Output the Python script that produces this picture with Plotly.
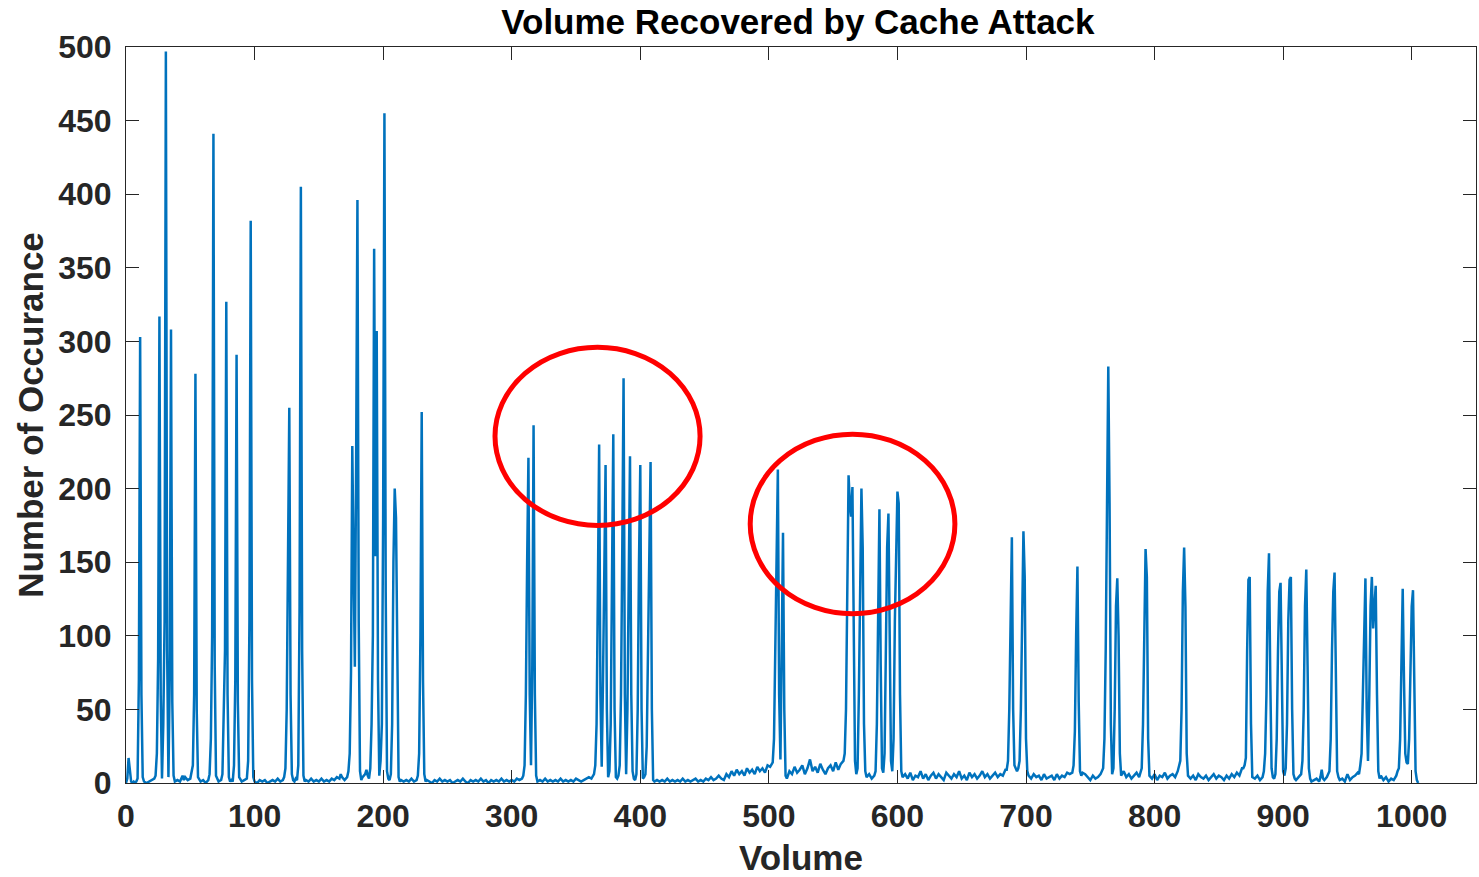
import plotly.graph_objects as go

# Histogram of volume values recovered by the cache attack (volume -> count).
volume = [
    0, 1, 2, 3, 4, 5, 6, 7, 8, 9, 10, 11, 12, 13,
    14, 16, 18, 20, 22, 23, 24, 25, 26, 27, 28, 29, 30, 31, 32, 33, 34, 35, 36, 37, 38,
    40, 42, 44, 45, 46, 48, 50, 52, 53, 54, 55, 56, 58, 60, 62, 64, 65, 66, 67, 68, 69, 70, 72, 74, 75, 76, 77, 78, 79, 80,
    81, 82, 83, 84, 85, 86, 87, 88, 90, 92, 94, 95, 96, 97, 98, 99, 100,
    102, 104, 106, 108, 110, 112, 114, 116, 118, 120, 122, 123, 124, 125, 126, 127, 128, 129, 130,
    131, 132, 133, 134, 135, 136, 137, 138, 139, 140, 142, 144, 146, 148, 150, 152, 154, 156, 158, 160, 162, 164, 166,
    167, 168, 170, 172, 173, 174, 175,
    176, 177, 178, 179, 180, 181, 182, 183, 184, 186, 187, 188, 189, 190, 191, 192, 193, 194, 195,
    196, 197, 198, 199, 200, 201, 202, 203, 204, 205, 206, 207, 208, 209, 210, 211, 212, 213,
    214, 216, 218, 220, 222, 224, 226, 227, 228, 229, 230, 231, 232, 233, 234,
    236, 238, 240, 242, 244, 246, 248, 250, 252, 254, 256, 258, 260, 262, 264, 266, 268, 270, 272, 274,
    276, 278, 280, 282, 284, 286, 288, 290, 292, 294, 296, 298, 300, 302, 304, 306, 308, 309, 310,
    311, 312, 313, 314, 315, 316, 317, 318, 319, 320,
    322, 324, 326, 328, 330, 332, 334, 336, 338, 340, 342, 344, 346, 348, 350, 352, 354, 356, 358, 360, 362,
    363, 364, 365, 366, 367,
    368, 369, 370, 371, 372, 373, 374, 375, 376, 377, 378, 379, 380, 381, 382, 383, 384, 385, 386, 387,
    388, 389, 390, 391, 392, 393, 394, 395, 396, 397, 398, 399, 400, 401, 402, 403, 404, 405, 406, 407,
    408, 409, 410, 411,
    413, 415, 417, 419, 421, 423, 425, 427, 429, 431, 433, 435, 437, 439, 441, 443, 445, 447, 449, 451,
    453, 455, 457, 459, 461, 463, 465, 467, 469, 471, 473, 475, 477, 479, 481, 483, 485, 487, 489, 491,
    493, 495, 497, 499, 501, 503, 504, 505,
    506, 507, 508, 509, 510, 511, 512, 513, 514,
    516, 518, 520, 522, 524, 526, 528, 530, 532, 534, 536, 538, 540, 542, 544, 546, 548, 550, 552, 554, 556, 558,
    559, 560, 561,
    562, 563, 564, 565, 566, 567, 568, 569, 570, 571, 572, 573, 574, 575, 576, 578, 580, 582,
    583, 584, 585, 586, 587, 588, 589, 590, 591, 592, 593, 594, 595, 596, 597, 598, 599, 600, 601, 602, 603, 604,
    606, 608, 610, 612, 614, 616, 618, 620, 622, 624, 626, 628, 630, 632, 634, 636, 638, 640, 642, 644,
    646, 648, 650, 652, 654, 656, 658, 660, 662, 664, 666, 668, 670, 672, 674, 676, 678, 680, 682, 684, 685, 686,
    687, 688, 689, 690, 691, 692, 693, 694, 695, 696, 697, 698, 699, 700, 701, 702,
    704, 706, 708, 710, 712, 714, 716, 718, 720, 722, 724, 726, 728, 730, 732, 734, 736,
    737, 738, 739, 740, 741, 742, 743, 744,
    746, 748, 750, 752, 754, 756, 758, 760, 761, 762, 763,
    764, 765, 766, 767, 768, 769, 770, 771, 772, 773, 774,
    776, 778, 780, 782, 784, 786, 788, 790, 791, 792, 793, 794, 795, 796,
    798, 800, 802, 804, 806, 808, 810, 812, 814, 816, 818, 820, 821, 822, 823, 824, 825, 826,
    828, 830, 832, 834, 836, 838, 840, 842, 844, 846, 848, 850, 852, 854, 856, 858, 860, 862, 864, 866, 868,
    869, 870, 871, 872, 873, 874, 875, 876,
    878, 880, 882, 884, 885, 886, 887, 888, 889, 890, 891, 892, 893, 894,
    895, 896, 897, 898, 899, 900, 901, 902, 903, 904, 905, 906, 907, 908, 909, 910, 912, 914,
    915, 916, 917, 918, 919, 920, 921, 922,
    924, 926, 928, 929, 930, 931, 932, 934, 936, 937, 938, 939, 940, 941, 942, 943, 944, 946, 948, 950,
    952, 954, 956, 958, 959, 960,
    961, 962, 963, 964, 965, 966, 967, 968, 969, 970, 971, 972, 973, 974, 975, 976, 978, 980, 982, 984,
    986, 988, 989,
    990, 991, 992, 993, 994, 995, 996, 997, 998, 999, 1000, 1001, 1002, 1003, 1004, 1005,
]

occurrence = [
    0, 3, 17, 8, 1, 0, 1, 0, 1, 3, 70, 303, 60, 4,
    1, 0, 1, 2, 3, 5, 20, 85, 317, 60, 3, 40, 110, 497, 90, 4, 70, 308, 55, 5, 1,
    2, 1, 5, 2, 4, 2, 3, 12, 60, 278, 50, 4, 1, 2, 0, 2, 6, 30, 100, 441, 80, 5, 1, 2, 6, 40, 90, 327, 60, 4,
    1, 2, 1, 12, 70, 291, 55, 4, 1, 2, 3, 15, 110, 382, 70, 4, 1,
    0, 2, 1, 2, 0, 1, 2, 1, 3, 1, 2, 4, 10, 50, 130, 255, 60, 6, 2,
    1, 3, 2, 12, 120, 405, 90, 5, 1, 2, 1, 3, 1, 2, 1, 3, 1, 2, 1, 3, 2, 4, 3,
    6, 4, 2, 4, 8, 20, 75,
    229, 150, 79, 220, 396, 110, 8, 2, 4, 6, 9, 5, 3, 10, 40, 100, 363, 154, 307,
    70, 5, 15, 40, 180, 455, 130, 8, 3, 2, 6, 40, 150, 200, 180, 60, 4, 1,
    2, 1, 2, 1, 3, 1, 2, 5, 20, 100, 252, 70, 6, 1, 2,
    1, 0, 2, 1, 3, 1, 2, 1, 2, 0, 1, 2, 1, 3, 1, 0, 2, 1, 2, 1,
    3, 1, 2, 0, 2, 1, 2, 1, 3, 1, 2, 1, 2, 1, 3, 2, 3, 5, 12,
    60, 150, 221, 60, 12, 80, 243, 60, 5, 1,
    2, 1, 3, 1, 2, 1, 2, 1, 3, 1, 2, 1, 2, 1, 3, 2, 1, 2, 3, 4, 3,
    5, 6, 12, 40, 130,
    230, 60, 11, 70, 150, 216, 50, 4, 8, 40, 140, 237, 50, 4, 3, 5, 12, 60, 160, 275,
    60, 6, 50, 150, 222, 60, 8, 3, 2, 6, 50, 150, 216, 50, 3, 4, 6, 25, 90, 170,
    218, 50, 2, 1,
    2, 1, 2, 1, 3, 1, 2, 1, 2, 1, 3, 1, 2, 1, 2, 3, 1, 2, 1, 3,
    2, 4, 2, 3, 5, 3, 2, 6, 4, 8, 5, 9, 6, 8, 5, 10, 7, 9, 6, 11,
    8, 10, 7, 12, 11, 14, 30, 90,
    180, 213, 60, 16, 90, 170, 50, 5, 3,
    8, 6, 11, 7, 9, 12, 6, 10, 16, 8, 11, 7, 13, 9, 6, 10, 12, 8, 14, 9, 13, 15,
    20, 50, 150,
    209, 190, 181, 201, 100, 15, 6, 10, 60, 150, 200, 160, 40, 8, 4, 6, 3, 5,
    8, 40, 130, 186, 80, 10, 7, 20, 90, 160, 183, 100, 15, 8, 30, 110, 170, 198, 190, 60, 8, 4,
    6, 3, 7, 2, 5, 4, 8, 3, 6, 2, 5, 7, 3, 6, 4, 2, 7, 5, 3, 6,
    4, 8, 3, 5, 2, 7, 4, 6, 3, 5, 8, 4, 6, 3, 5, 7, 4, 6, 5, 9, 9, 15,
    50, 120, 167, 50, 12, 10, 8, 10, 15, 50, 130, 171, 140, 30, 8, 5,
    3, 6, 4, 5, 2, 6, 3, 4, 5, 2, 6, 3, 5, 4, 7, 6, 7,
    12, 35, 100, 147, 55, 8, 5, 7,
    6, 4, 2, 5, 3, 4, 6, 10, 30, 90, 200,
    283, 190, 40, 6, 10, 50, 120, 139, 100, 20, 5,
    8, 4, 6, 3, 5, 7, 4, 10, 40, 120, 159, 140, 30, 5,
    3, 6, 2, 5, 4, 7, 3, 5, 6, 4, 8, 15, 50, 130, 160, 120, 20, 5,
    3, 5, 2, 6, 4, 3, 5, 2, 4, 6, 3, 5, 4, 2, 5, 3, 6, 4, 7, 5, 10,
    10, 12, 17, 90, 138, 140, 40, 4,
    3, 5, 2, 4, 8, 20, 60, 130, 156, 70, 10, 4, 3, 6,
    30, 90, 130, 136, 60, 8, 5, 10, 40, 110, 138, 140, 50, 6, 3, 2, 4, 6,
    15, 50, 120, 145, 80, 10, 3, 1,
    2, 3, 1, 4, 9, 3, 2, 4, 8, 30, 90, 130, 143, 60, 8, 4, 2, 3, 1, 6,
    2, 4, 5, 7, 6, 12,
    20, 60, 115, 139, 50, 15, 60, 120, 140, 105, 120, 134, 60, 8, 3, 5, 2, 4, 1, 3,
    2, 5, 8,
    10, 30, 90, 132, 70, 20, 14, 13, 30, 80, 120, 131, 50, 8, 2, 0,
]

assert len(volume) == len(occurrence), (len(volume), len(occurrence))

x_ticks = [0, 100, 200, 300, 400, 500, 600, 700, 800, 900, 1000]
y_ticks = [0, 50, 100, 150, 200, 250, 300, 350, 400, 450, 500]

# Highlighted clusters (volume range, count range)
highlight_volume = [(287, 446.5), (485.5, 644.7)]
highlight_count = [(175, 296), (115, 237)]

FONT = "Liberation Sans, Arial, sans-serif"
TEXT = "#262626"
AXIS = "#262626"

fig = go.Figure()
fig.add_trace(go.Scatter(
    x=volume, y=occurrence, mode="lines",
    line=dict(color="#0072BD", width=2.5),
    showlegend=False, hoverinfo="x+y",
))

for (vx0, vx1), (cy0, cy1) in zip(highlight_volume, highlight_count):
    fig.add_shape(type="circle", xref="x", yref="y",
                  x0=vx0, x1=vx1, y0=cy0, y1=cy1,
                  line=dict(color="#FF0000", width=5))

axis_common = dict(
    showgrid=False, zeroline=False,
    showline=True, linecolor=AXIS, linewidth=1, mirror="ticks",
    ticks="inside", ticklen=13, tickwidth=1, tickcolor=AXIS,
    tickfont=dict(family=FONT, size=32, color=TEXT, weight="bold"),
)

fig.update_layout(
    width=1479, height=877,
    margin=dict(l=126, r=3, t=47, b=94),
    paper_bgcolor="white", plot_bgcolor="white",
    title=dict(text="Volume Recovered by Cache Attack",
               font=dict(family=FONT, size=35, color="#000000", weight="bold"),
               x=0.5395, xanchor="center", y=0.975, yanchor="middle"),
    xaxis=dict(range=[0, 1050], tickvals=x_ticks, ticktext=[str(v) for v in x_ticks],
               ticklabelstandoff=5,
               title=dict(text="Volume", standoff=13,
                          font=dict(family=FONT, size=35, color=TEXT, weight="bold")),
               **axis_common),
    yaxis=dict(range=[0, 500], tickvals=y_ticks, ticktext=[str(v) for v in y_ticks],
               ticklabelstandoff=7,
               title=dict(text="Number of Occurance", standoff=3,
                          font=dict(family=FONT, size=35, color=TEXT, weight="bold")),
               **axis_common),
)

fig.write_html("out.html")
